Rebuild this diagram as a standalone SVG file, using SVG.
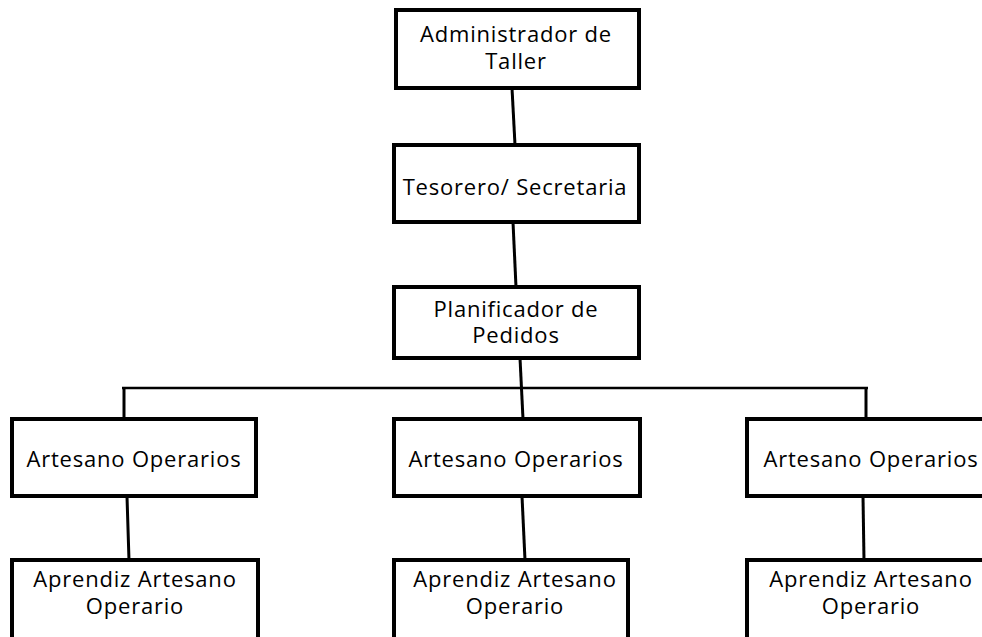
<svg xmlns="http://www.w3.org/2000/svg" width="982" height="637" viewBox="0 0 982 637">
<style>
.box{fill:#fff;stroke:#000;stroke-width:4}
.t{font-family:"Open Sans","Liberation Sans",sans-serif;font-size:22px;letter-spacing:0.8px;fill:#000;text-anchor:middle}
.c{stroke:#000;stroke-width:3;fill:none}
.bar{stroke:#000;stroke-width:2.5;fill:none}
</style>
<rect width="982" height="637" fill="#fff"/>
<g id="connectors">
<line class="c" x1="512" y1="88" x2="515" y2="145"/>
<line class="c" x1="513" y1="222" x2="516" y2="287"/>
<line class="c" x1="520" y1="358" x2="523" y2="419"/>
<line class="bar" x1="122" y1="388" x2="868" y2="388"/>
<line class="c" x1="124" y1="387" x2="124" y2="419"/>
<line class="c" x1="866" y1="387" x2="866" y2="419"/>
<line class="c" x1="127" y1="496" x2="129" y2="560"/>
<line class="c" x1="522" y1="496" x2="525" y2="560"/>
<line class="c" x1="863" y1="496" x2="864" y2="560"/>
</g>
<g id="n1"><rect class="box" x="396" y="10" width="243" height="78"/><text class="t" x="516" y="42">Administrador de<tspan x="516" dy="27">Taller</tspan></text></g>
<g id="n2"><rect class="box" x="394" y="145" width="245" height="77"/><text class="t" x="515" y="195">Tesorero/ Secretaria</text></g>
<g id="n3"><rect class="box" x="394" y="287" width="245" height="71"/><text class="t" x="516" y="317">Planificador de<tspan x="516" dy="26">Pedidos</tspan></text></g>
<g id="n4"><rect class="box" x="12" y="419" width="244" height="77"/><text class="t" x="134" y="467">Artesano Operarios</text></g>
<g id="n5"><rect class="box" x="394" y="419" width="246" height="77"/><text class="t" x="516" y="467">Artesano Operarios</text></g>
<g id="n6"><rect class="box" x="747" y="419" width="250" height="77"/><text class="t" x="871" y="467">Artesano Operarios</text></g>
<g id="n7"><rect class="box" x="12" y="560" width="246" height="82"/><text class="t" x="135" y="587">Aprendiz Artesano<tspan x="135" dy="27">Operario</tspan></text></g>
<g id="n8"><rect class="box" x="394" y="560" width="234" height="82"/><text class="t" x="515" y="587">Aprendiz Artesano<tspan x="515" dy="27">Operario</tspan></text></g>
<g id="n9"><rect class="box" x="747" y="560" width="250" height="82"/><text class="t" x="871" y="587">Aprendiz Artesano<tspan x="871" dy="27">Operario</tspan></text></g>
</svg>
